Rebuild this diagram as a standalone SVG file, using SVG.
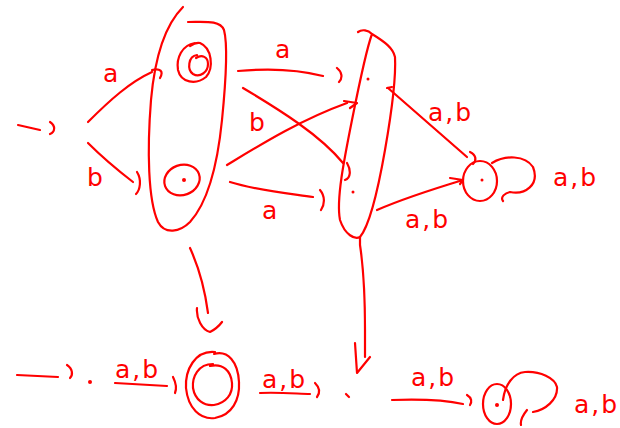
<svg xmlns="http://www.w3.org/2000/svg" width="620" height="428" viewBox="0 0 620 428">
<style>
.s{fill:none;stroke:#ff0000;stroke-width:2.2;stroke-linecap:round;stroke-linejoin:round}
.d{fill:#ff0000}
.t{fill:#ff0000;font-family:"DejaVu Sans","Liberation Sans",sans-serif;font-size:25px;letter-spacing:2px}
</style>
<rect width="620" height="428" fill="#fff"/>
<g id="set-left">
<path class="s" d="M183,7 C165,25 155,55 151,100 C147,150 148,200 158,222 C165,235 180,232 190,222 C210,200 218,160 222,120 C226,80 228,45 224,30 C220,20 205,22 188,22"/>
</g>
<g id="state-left-top">
<path class="s" d="M195,43 C182,45 176,58 178,70 C181,83 196,85 206,77 C214,68 212,48 200,43 C196,42 193,44 190,46"/>
<path class="s" d="M197,55 C188,56 187,70 193,74 C200,78 208,72 208,64 C208,57 202,54 196,58"/>
</g>
<g id="state-left-bottom">
<ellipse class="s" cx="182" cy="180" rx="18" ry="15" transform="rotate(-20 182 180)"/>
<circle class="d" cx="184" cy="180" r="2"/>
</g>
<g id="set-mid">
<path class="s" d="M358,32 C362,29 368,30 372,34 C366,50 360,80 352,120 C344,160 336,200 340,220 C345,235 355,240 360,237 C370,225 378,190 385,150 C392,110 396,75 395,57 C393,48 385,42 372,34"/>
</g>
<g id="state-mid-top"><circle class="d" cx="368" cy="79" r="1.5"/></g>
<g id="state-mid-bottom"><circle class="d" cx="353" cy="192" r="1.5"/></g>
<g id="state-trap-top">
<ellipse class="s" cx="480" cy="181" rx="17" ry="20"/>
<circle class="d" cx="482" cy="180" r="1.5"/>
</g>
<g id="state-b0"><circle class="d" cx="90" cy="382" r="2"/></g>
<g id="state-b1">
<path class="s" d="M215,352 C195,350 185,370 186,388 C188,408 200,420 215,418 C232,415 240,400 239,382 C238,362 228,350 214,354"/>
<path class="s" d="M213,364 C198,364 192,377 193,388 C195,400 204,406 214,405 C226,403 233,394 232,383 C231,371 223,363 210,366"/>
</g>
<g id="state-b2"><path class="s" d="M346,394 L349,397"/></g>
<g id="state-b3">
<ellipse class="s" cx="497" cy="404" rx="14" ry="20"/>
<circle class="d" cx="497" cy="405" r="2"/>
</g>
<g id="connectors">
<path class="s" d="M18,125 L40,130 M50,122 C56,126 55,132 50,134"/>
<path class="s" d="M88,122 C110,100 130,82 152,72 M152,70 C160,68 164,71 160,78"/>
<path class="s" d="M88,143 C105,160 120,172 133,182 M137,172 C142,180 140,190 136,194"/>
<path class="s" d="M238,71 C270,68 300,70 323,76 M337,68 C342,72 343,78 339,82"/>
<path class="s" d="M243,88 C280,110 320,135 343,163 M347,163 C351,170 351,178 345,180"/>
<path class="s" d="M227,165 C260,145 300,120 347,103 M344,101 L357,103 L350,108"/>
<path class="s" d="M230,182 C255,190 285,193 313,197 M320,190 C325,196 325,204 321,210"/>
<path class="s" d="M388,88 L467,157 M470,152 C476,155 477,160 473,164 M392,87 L387,88"/>
<path class="s" d="M377,210 C400,200 430,190 463,180 M450,178 L463,180 L460,184"/>
<path class="s" d="M492,163 C505,155 525,155 533,167 C540,185 525,195 510,192 C505,193 500,197 503,201"/>
<path class="s" d="M190,248 C200,270 205,290 208,313 M197,308 C196,318 202,330 210,332 C214,330 219,326 222,322"/>
<path class="s" d="M360,237 L360,245 C363,265 365,290 365,330 L365,357 M355,343 L357,373 L370,357"/>
<path class="s" d="M17,375 L58,377 M67,365 C73,369 73,375 70,378"/>
<path class="s" d="M115,383 L167,386 M173,377 C176,383 177,388 175,393"/>
<path class="s" d="M260,393 C280,392 300,394 310,394 M315,383 C320,388 320,393 317,397"/>
<path class="s" d="M392,400 C420,399 445,400 463,404 M467,395 C472,398 472,402 470,405"/>
<path class="s" d="M503,400 C505,385 513,373 525,372 C540,371 555,378 557,387 C558,400 545,410 533,412 M527,410 C523,415 520,420 521,425"/>
</g>
<g id="labels">
<text class="t" x="103" y="82">a</text>
<text class="t" x="87" y="186">b</text>
<text class="t" x="275" y="58">a</text>
<text class="t" x="249" y="131">b</text>
<text class="t" x="262" y="219">a</text>
<text class="t" x="428" y="121">a,b</text>
<text class="t" x="405" y="228">a,b</text>
<text class="t" x="553" y="186">a,b</text>
<text class="t" x="115" y="378">a,b</text>
<text class="t" x="262" y="388">a,b</text>
<text class="t" x="411" y="386">a,b</text>
<text class="t" x="574" y="413">a,b</text>
</g>
</svg>
